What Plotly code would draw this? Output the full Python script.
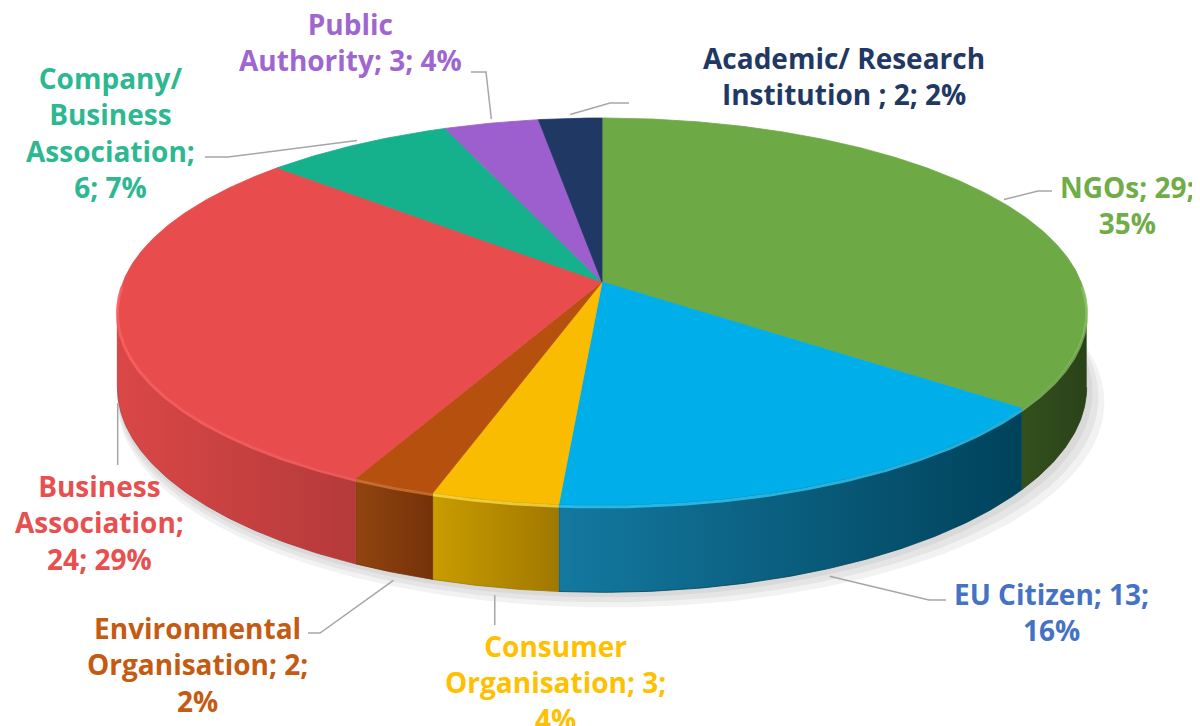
import numpy as np
import plotly.graph_objects as go

# ---------------- data ----------------
categories = ["NGOs", "EU Citizen", "Consumer Organisation", "Environmental Organisation",
              "Business Association", "Company/ Business Association", "Public Authority",
              "Academic/ Research Institution "]
values = [29, 13, 3, 2, 24, 6, 3, 2]

# ---------------- styles ----------------
top_colors = ["#6DAA45", "#00AEEA", "#F9BC00", "#B5500F", "#E94C4C", "#15B08C", "#9C5FCD", "#1F3864"]
side_light = ["#33501D", "#1479A0", "#C99C00", "#92440F", "#DA4747", "#0F8A6D", "#7A48A5", "#172A4C"]
side_dark = ["#2A4219", "#00425B", "#A07800", "#74320A", "#B53A3A", "#0B6A54", "#5E3682", "#10203B"]
rim_colors = ["#8CC466", "#2FD0FF", "#FFE14A", "#DA7A35", "#FF6464", "#3FD0AA", "#B888E0", "#34507E"]
label_colors = ["#70AD47", "#4472C4", "#FFC000", "#C55A11", "#E8504F", "#2DB891", "#A066D0", "#1F3864"]
label_pos = [(1127, 205), (1051, 612), (555, 682), (197, 664), (99, 522), (110, 132), (350, 42), (844, 76)]
words_per_line = [[2, 1], [3, 1], [1, 2, 1], [1, 2, 1], [1, 1, 2], [1, 1, 1, 2], [1, 3], [2, 4]]
# leader-line routing (after the anchor on the pie edge); None x means "same x as anchor"
leader_via = [[(1038, 191), (1052, 191)],
              [(929, 600), (946, 600)],
              [(None, 625)],
              [(320, 633), (308, 633)],
              [(None, 465)],
              [(228, 157), (205, 157)],
              [(486, 72), (471, 72)],
              [(610, 103), (629, 103)]]
FONT = "Open Sans"
FONT_SIZE = 28
PAGE_OFFSET = 8  # default body margin of the html page

# projection of the tilted disc (perspective)
CX, CY = 602.0, 282.0
RX, RY = 479.0, 189.0
K = 0.1525
DEPTH = 74.0


def proj(theta_deg):
    t = np.radians(np.asarray(theta_deg, dtype=float))
    u, v = np.sin(t), np.cos(t)
    d = 1 + K * v
    return CX + RX * u / d, CY - RY * v / d, d


total = sum(values)
fracs = np.array(values) / total
cum = np.concatenate([[0], np.cumsum(fracs)]) * 360.0
vis_lo = np.degrees(np.arccos(-K))
vis_hi = 360 - vis_lo

fig = go.Figure()

# soft shadow under the disc
th = np.linspace(0, 360, 361)
for s in [3, 2, 1]:
    x, y, d = proj(th)
    xs = CX + (x - CX) * (1 + 0.006 * s) + 3 * s
    ys = y + DEPTH / d + 5 * s
    fig.add_trace(go.Scatter(x=xs, y=ys, mode="lines", fill="toself",
                             fillcolor="rgba(0,0,0,0.05)", line=dict(width=0),
                             hoverinfo="skip", showlegend=False))

# sides
for i in range(len(values)):
    a, b = max(cum[i], vis_lo), min(cum[i + 1], vis_hi)
    if b <= a:
        continue
    t = np.linspace(a, b, max(4, int((b - a) * 2)))
    x, y, d = proj(t)
    yb = y + DEPTH / d
    px = np.concatenate([x, x[::-1]])
    py = np.concatenate([y, yb[::-1]])
    fig.add_trace(go.Scatter(
        x=px, y=py, mode="lines", fill="toself",
        fillgradient=dict(type="horizontal",
                          colorscale=[[0, side_light[i]], [1, side_dark[i]]]),
        line=dict(width=0.8, color=side_dark[i]),
        hoverinfo="skip", showlegend=False))

# top faces
for i in range(len(values)):
    a, b = cum[i], cum[i + 1]
    t = np.linspace(a, b, max(4, int((b - a) * 2)))
    x, y, d = proj(t)
    px = np.concatenate([[CX], x, [CX]])
    py = np.concatenate([[CY], y, [CY]])
    fig.add_trace(go.Scatter(
        x=px, y=py, mode="lines", fill="toself", fillcolor=top_colors[i],
        line=dict(width=0.8, color=top_colors[i]),
        hoverinfo="skip", showlegend=False))

# bevel rim along the visible front edge
for i in range(len(values)):
    a, b = max(cum[i], vis_lo - 8), min(cum[i + 1], vis_hi + 8)
    if b <= a:
        continue
    t = np.linspace(a, b, max(4, int((b - a) * 2)))
    x, y, d = proj(t)
    fig.add_trace(go.Scatter(x=x, y=y + 2, mode="lines",
                             line=dict(width=3, color=rim_colors[i]), opacity=0.75,
                             hoverinfo="skip", showlegend=False))

# labels and leader lines
annotations = []
for i, (name, val) in enumerate(zip(categories, values)):
    pct = round(val / total * 100)
    words = f"{name}; {val}; {pct}%".split()
    lines, k = [], 0
    for n in words_per_line[i]:
        lines.append(" ".join(words[k:k + n]))
        k += n
    lx, ly = label_pos[i]
    annotations.append(dict(
        x=lx, y=ly, xref="x", yref="y", text="<br>".join(lines), showarrow=False,
        xanchor="center", yanchor="middle", align="center",
        font=dict(family=FONT, size=FONT_SIZE, color=label_colors[i], weight="bold")))

    mid = (cum[i] + cum[i + 1]) / 2
    x0, y0, d0 = proj([mid])
    x0, y0, d0 = float(x0[0]), float(y0[0]), float(d0[0])
    if vis_lo < mid < vis_hi:
        y0 = y0 + DEPTH / d0 + 8
    else:
        y0 = y0 - 4
    xs, ys = [x0], [y0]
    for (vx, vy) in leader_via[i]:
        xs.append(x0 if vx is None else vx)
        ys.append(vy)
    fig.add_trace(go.Scatter(x=xs, y=ys, mode="lines",
                             line=dict(width=1.5, color="#A6A6A6"),
                             hoverinfo="skip", showlegend=False))

W, H = 1200, 726
fig.update_layout(
    width=W, height=H,
    margin=dict(l=0, r=0, t=0, b=0),
    paper_bgcolor="white", plot_bgcolor="white",
    xaxis=dict(range=[PAGE_OFFSET, W + PAGE_OFFSET], visible=False, fixedrange=True),
    yaxis=dict(range=[H + PAGE_OFFSET, PAGE_OFFSET], visible=False, fixedrange=True),
    annotations=annotations,
    showlegend=False,
)

fig.write_html("out.html")
